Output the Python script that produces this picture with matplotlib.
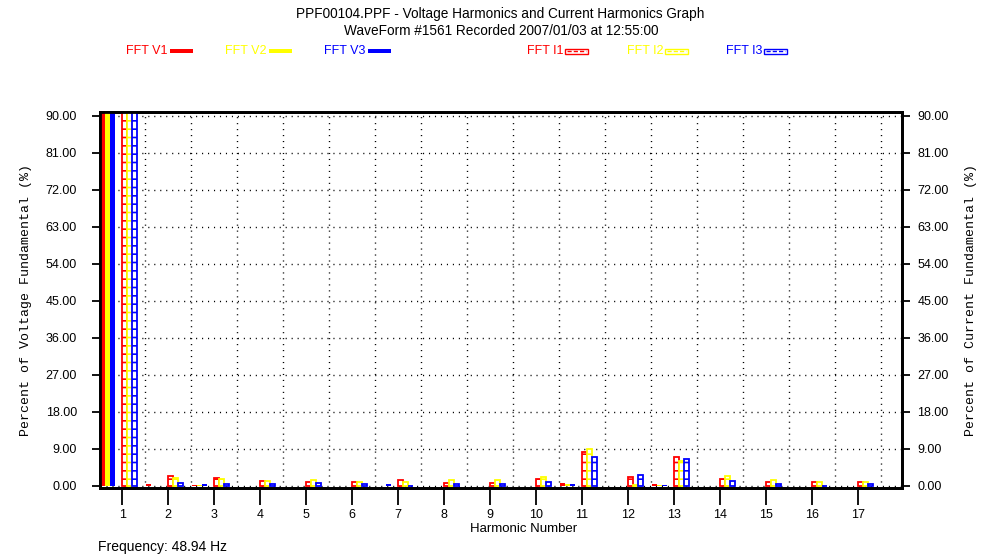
import numpy as np
import matplotlib
matplotlib.use("Agg")
import matplotlib.pyplot as plt
from matplotlib.patches import Rectangle
from matplotlib.lines import Line2D

plt.rcParams['font.family'] = ['Liberation Sans', 'DejaVu Sans']
plt.rcParams['hatch.linewidth'] = 1.2

# harmonic data (percent of fundamental)
harmonics = list(range(1, 18))
fft_v1 = [100, 0.4, 0.1, 0.0, 0.0, 0.0, 0.0, 0.0, 0.0, 0.0, 0.7, 0.0, 0.4, 0.0, 0.0, 0.0, 0.0]
fft_v2 = [100, 0.0, 0.3, 0.0, 0.0, 0.0, 0.0, 0.0, 0.0, 0.0, 0.5, 0.0, 0.3, 0.0, 0.0, 0.0, 0.0]
fft_v3 = [100, 0.0, 0.4, 0.0, 0.0, 0.0, 0.4, 0.0, 0.0, 0.0, 0.4, 0.0, 0.3, 0.0, 0.0, 0.0, 0.0]
fft_i1 = [100, 2.4, 1.8, 1.2, 1.0, 1.0, 1.3, 0.7, 0.7, 1.6, 8.3, 2.1, 6.9, 1.6, 0.8, 0.8, 0.8]
fft_i2 = [100, 1.9, 1.6, 1.1, 1.3, 1.0, 1.0, 1.3, 1.3, 2.2, 9.0, 0.2, 6.0, 2.4, 1.3, 1.0, 1.0]
fft_i3 = [100, 0.7, 0.5, 0.5, 0.6, 0.5, 0.0, 0.5, 0.4, 1.0, 6.9, 2.7, 6.6, 1.2, 0.4, 0.0, 0.5]
yticks = [0, 9, 18, 27, 36, 45, 54, 63, 72, 81, 90]

volt_series = [("FFT V1", fft_v1, "#ff0000"), ("FFT V2", fft_v2, "#ffff00"), ("FFT V3", fft_v3, "#0000ff")]
curr_series = [("FFT I1", fft_i1, "#ff0000"), ("FFT I2", fft_i2, "#ffff00"), ("FFT I3", fft_i3, "#0000ff")]

W, H = 992, 559
fig = plt.figure(figsize=(W / 100, H / 100), dpi=100)


def fx(px):
    return px / W


def fy(py):
    return 1 - py / H


ax = fig.add_axes([fx(100), fy(488), fx(802), 376 / H])

x = np.array(harmonics, dtype=float)
bw = 0.109
v_off = [-0.424, -0.315, -0.206]
i_off = [0.047, 0.156, 0.265]

for (name, vals, col), off in zip(volt_series, v_off):
    ax.bar(x + off, vals, width=bw, color=col, linewidth=0, zorder=3)
for (name, vals, col), off in zip(curr_series, i_off):
    ax.bar(x + off, vals, width=bw, facecolor='white', edgecolor=col,
           hatch='--', linewidth=1.3, zorder=3)

ax.set_xlim(0.52, 17.96)
ax.set_ylim(-0.55, 90.9)
ax.set_xticks(harmonics)
ax.set_xticks(np.arange(1.5, 18, 1), minor=True)
ax.set_yticks(yticks)
ax.set_yticklabels(["%.2f" % v for v in yticks])
ax.tick_params(axis='x', which='major', length=12, width=1.3, pad=3, labelsize=9)
ax.tick_params(axis='x', which='minor', length=0)
ax.tick_params(axis='y', length=5.5, width=1.3, pad=11, labelsize=9)
ax.grid(which='minor', axis='x', color='black', linestyle=(0, (0.8, 3.5)), linewidth=1.0)
ax.grid(which='major', axis='y', color='black', linestyle=(0, (0.8, 3.5)), linewidth=1.0)
ax.grid(which='major', axis='x', visible=False)
ax.set_axisbelow(True)
for sp in ax.spines.values():
    sp.set_linewidth(2)

ax.set_ylabel("Percent of Voltage Fundamental (%)", family='Liberation Mono', fontsize=9.5, labelpad=10)

ax2 = ax.twinx()
ax2.set_ylim(ax.get_ylim())
ax2.set_yticks(yticks)
ax2.set_yticklabels(["%.2f" % v for v in yticks])
ax2.tick_params(axis='y', length=6, width=1.3, pad=5, labelsize=9)
for sp in ax2.spines.values():
    sp.set_linewidth(2)
ax2.set_ylabel("Percent of Current Fundamental (%)", family='Liberation Mono', fontsize=9.5, labelpad=12)

# titles and footer
fig.text(fx(500), fy(14), "PPF00104.PPF - Voltage Harmonics and Current Harmonics Graph",
         ha='center', va='center', fontsize=9.8)
fig.text(fx(501), fy(31), "WaveForm #1561 Recorded 2007/01/03 at 12:55:00",
         ha='center', va='center', fontsize=9.8)
fig.text(fx(524), fy(529), "Harmonic Number", ha='center', va='center', fontsize=9.5)
fig.text(fx(98), fy(547), "Frequency: 48.94 Hz", ha='left', va='center', fontsize=10)

# hand-made legend row
leg_y = 51
for (name, vals, col), tx in zip(volt_series, [126, 225, 324]):
    fig.text(fx(tx), fy(leg_y), name, color=col, ha='left', va='center', fontsize=9)
    fig.add_artist(Rectangle((fx(tx + 44), fy(leg_y + 2)), 23 / W, 4 / H,
                             transform=fig.transFigure, facecolor=col, edgecolor='none'))
for (name, vals, col), tx in zip(curr_series, [527, 627, 726]):
    fig.text(fx(tx), fy(leg_y), name, color=col, ha='left', va='center', fontsize=9)
    fig.add_artist(Rectangle((fx(tx + 38), fy(leg_y + 2.5)), 23 / W, 5 / H,
                             transform=fig.transFigure, facecolor='white', edgecolor=col,
                             linewidth=1.0))
    fig.add_artist(Line2D([fx(tx + 40), fx(tx + 59)], [fy(leg_y), fy(leg_y)],
                          transform=fig.transFigure, color=col, linewidth=1.0,
                          linestyle=(0, (3, 1.5))))

fig.savefig("out.png", dpi=100)
